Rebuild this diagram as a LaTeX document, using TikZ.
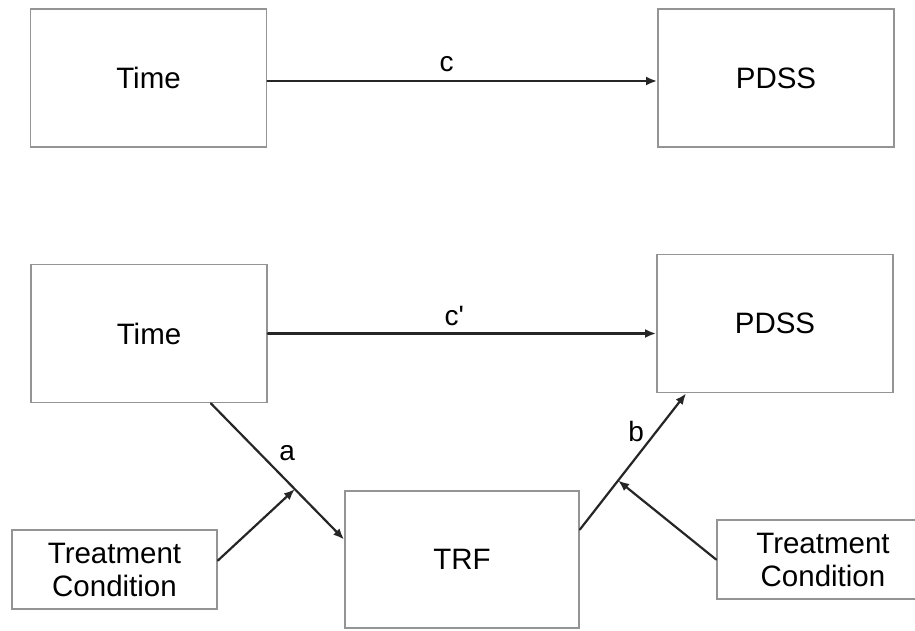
\documentclass[tikz,border=0pt]{standalone}
\usepackage{fontspec}
\setmainfont{Liberation Sans}
\usepackage{tikz}
\usetikzlibrary{arrows.meta,positioning}

\begin{document}
\begin{tikzpicture}
		[x=1pt,y=-1pt,line cap=round,
		%Styles
		box/.style={draw=boxcolor,line width=1.8pt,inner sep=0pt,align=center,font=\fontsize{29.5}{33}\selectfont},
		big box/.style={box,minimum width=236pt,minimum height=138pt},
		small box/.style={box,minimum width=205pt,minimum height=79pt},
		path arrow/.style={draw=arrowcolor,line width=2.2pt,-{Latex[length=11pt,width=9pt]}},
		path label/.style={font=\fontsize{28}{30}\selectfont}
		]
		
		%Colors
		\colorlet{boxcolor}{black!42}
		\colorlet{arrowcolor}{black!85}
		
		\useasboundingbox (0,0) rectangle (915,630);
		
		%The graphic
		\node[big box] (time1) at (148.5,78) {Time};
		\node[big box] (pdss1) at (776,78) {PDSS};
		\draw[path arrow] ([yshift=-3pt]time1.east) -- node[path label,pos=0.46,above=5pt]{c} ([yshift=-3pt]pdss1.west);
		
		\node[big box] (time2) at (149,333.5) {Time};
		\node[big box] (pdss2) at (775,323.5) {PDSS};
		\node[big box,minimum width=234pt,minimum height=137pt] (trf) at (462,559.5) {TRF};
		\node[small box] (ltc) at (114.5,569.5) {Treatment\\Condition};
		\node[small box,minimum width=212pt] (rtc) at (823,559.5) {Treatment\\Condition};
		
		\draw[path arrow] (time2.east) -- node[path label,pos=0.48,above=3pt]{c\textquotesingle} (time2.east -| pdss2.west);
		
		\draw[path arrow] ([xshift=-57pt]time2.south east) -- coordinate[pos=0.63] (amid) node[path label,pos=0.45,above right=-1pt and 4pt]{a} ([yshift=20pt]trf.west);
		\draw[path arrow] ([yshift=30pt]trf.east) -- coordinate[pos=0.36] (bmid) node[path label,pos=0.72,left=8pt]{b} ([xshift=30pt]pdss2.south west);
		
		\draw[path arrow] ([yshift=9pt]ltc.east) -- (amid);
		\draw[path arrow] (rtc.west) -- (bmid);
	\end{tikzpicture}
\end{document}
